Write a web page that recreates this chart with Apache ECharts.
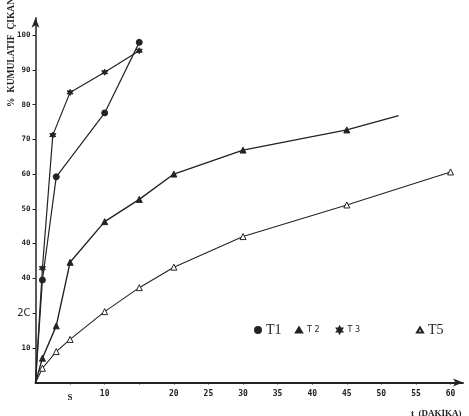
<!DOCTYPE html>
<html>
<head>
<meta charset="utf-8">
<script src="https://cdn.jsdelivr.net/npm/echarts@6/dist/echarts.min.js"></script>
<style>
html,body{margin:0;padding:0;background:#fff;}
#c{width:469px;height:416px;}
</style>
</head>
<body>
<div id="c"></div>
<script>
// ---- data ----
const t1Time = [0, 1, 3, 10, 15];
const t1Value = [0, 29.5, 59.2, 77.6, 97.9];

const t2Time = [0, 1, 3, 5, 10, 15, 20, 30, 45, 52.5];
const t2Value = [0, 7.0, 16.3, 34.6, 46.3, 52.7, 60.0, 66.9, 72.7, 76.8];

const t3Time = [0, 1, 2.5, 5, 10, 15];
const t3Value = [0, 32.9, 71.2, 83.5, 89.3, 95.5];

const t5Time = [0, 1, 3, 5, 10, 15, 20, 30, 45, 60];
const t5Value = [0, 4.1, 8.9, 12.4, 20.4, 27.3, 33.2, 42.0, 51.1, 60.6];

const xLabelValues = [5, 10, 20, 25, 30, 35, 40, 45, 50, 55, 60];
const xTickLabels = ['S', '10', '20', '25', '30', '35', '40', '45', '50', '55', '60'];
const xTickValues = [5, 10, 15, 20, 25, 30, 35, 40, 45, 50, 55, 60];

const yLabelValues = [10, 20, 30, 40, 50, 60, 70, 80, 90, 100];
const yTickLabels = ['10', '2C', '40', '40', '50', '60', '70', '80', '90', '100'];

const seriesNames = ['T1', 'T2', 'T3', 'T5'];
const legendTexts = ['T1', 'T 2', 'T 3', 'T5'];
const yTitle = '%  KUMULATIF  ÇIKAN';
const xTitle = 't  (DAKİKA)';

// ---- styling ----
const INK = '#232323';
const STAR = 'path://M0,-10L2.75,-4.76L8.66,-5L5.5,0L8.66,5L2.75,4.76L0,10L-2.75,4.76L-8.66,5L-5.5,0L-8.66,-5L-2.75,-4.76Z';

function pts(ts, vs, lastNoSymbol) {
  return ts.map((t, i) => {
    const item = { value: [t, vs[i]] };
    if (i === 0 || (lastNoSymbol && i === ts.length - 1)) item.symbol = 'none';
    return item;
  });
}

function lineSeries(name, data, symbol, size, fill, width) {
  return {
    name: name,
    type: 'line',
    data: data,
    symbol: symbol,
    symbolSize: size,
    showAllSymbol: true,
    lineStyle: { color: INK, width: width },
    itemStyle: { color: fill, borderColor: INK, borderWidth: 1 },
    z: 3
  };
}

const chart = echarts.init(document.getElementById('c'), null, { renderer: 'canvas' });

const legendPos = [
  { left: 254, top: 323, icon: 'circle', w: 6, h: 6, font: 'Liberation Serif', size: 14 },
  { left: 295, top: 326, icon: 'triangle', w: 6, h: 5, font: 'DejaVu Sans', size: 8 },
  { left: 336, top: 326, icon: STAR, w: 6, h: 6, font: 'DejaVu Sans', size: 8 },
  { left: 416, top: 323, icon: 'triangle', w: 6, h: 5, font: 'Liberation Serif', size: 14 }
];

const option = {
  animation: false,
  backgroundColor: '#ffffff',
  grid: { left: 35.5, right: 6, top: 17.7, bottom: 33.5, containLabel: false },
  legend: legendPos.map((p, i) => ({
    data: [{ name: seriesNames[i], icon: p.icon }],
    left: p.left,
    top: p.top,
    padding: 0,
    itemWidth: p.w,
    itemHeight: p.h,
    formatter: () => legendTexts[i],
    textStyle: { fontFamily: p.font, fontSize: p.size, color: INK },
    selectedMode: false
  })),
  xAxis: {
    type: 'value',
    min: 0,
    max: 61.8,
    splitLine: { show: false },
    axisLine: {
      show: true,
      lineStyle: { color: INK, width: 1.8 },
      symbol: ['none', 'arrow'],
      symbolSize: [6, 10]
    },
    axisTick: { show: true, length: 2, lineStyle: { color: INK }, customValues: xTickValues },
    axisLabel: {
      customValues: xLabelValues,
      margin: 7,
      fontFamily: 'DejaVu Sans Mono',
      fontWeight: 'bold',
      fontSize: 8,
      color: INK,
      formatter: function (v) {
        const i = xLabelValues.indexOf(v);
        if (i < 0) return '';
        return xTickLabels[i] === 'S' ? '{s|S}' : xTickLabels[i];
      },
      rich: { s: { fontFamily: 'Liberation Serif', fontWeight: 'bold', fontSize: 9, padding: [4, 0, 0, 0], color: INK } }
    }
  },
  yAxis: {
    type: 'value',
    min: 0,
    max: 105,
    splitLine: { show: false },
    axisLine: {
      show: true,
      lineStyle: { color: INK, width: 1.5 },
      symbol: ['none', 'arrow'],
      symbolSize: [6, 10]
    },
    axisTick: { show: true, length: 3, lineStyle: { color: INK }, customValues: yLabelValues },
    axisLabel: {
      customValues: yLabelValues,
      margin: 5,
      fontFamily: 'DejaVu Sans Mono',
      fontWeight: 'bold',
      fontSize: 7.5,
      color: INK,
      formatter: function (v) {
        const i = yLabelValues.indexOf(v);
        if (i < 0) return '';
        return yTickLabels[i] === '2C' ? '{b|2C}' : yTickLabels[i];
      },
      rich: { b: { fontFamily: 'DejaVu Sans', fontWeight: 'normal', fontSize: 10, color: INK } }
    }
  },
  graphic: [
    {
      type: 'text',
      x: 12,
      y: 107,
      rotation: Math.PI / 2,
      style: {
        text: yTitle,
        fontFamily: 'Liberation Serif',
        fontWeight: 'bold',
        fontSize: 9.5,
        fill: INK,
        textAlign: 'left',
        textVerticalAlign: 'middle'
      }
    },
    {
      type: 'text',
      x: 411,
      y: 414,
      style: {
        text: xTitle,
        fontFamily: 'Liberation Serif',
        fontWeight: 'bold',
        fontSize: 9,
        fill: INK,
        textAlign: 'left',
        textVerticalAlign: 'middle'
      }
    }
  ],
  series: [
    lineSeries('T1', pts(t1Time, t1Value, false), 'circle', 6, INK, 1.2),
    lineSeries('T2', pts(t2Time, t2Value, true), 'triangle', 6, INK, 1.4),
    lineSeries('T3', pts(t3Time, t3Value, false), STAR, 6, INK, 1.2),
    lineSeries('T5', pts(t5Time, t5Value, false), 'triangle', 6, '#ffffff', 1.1)
  ]
};

chart.setOption(option);
</script>
</body>
</html>
